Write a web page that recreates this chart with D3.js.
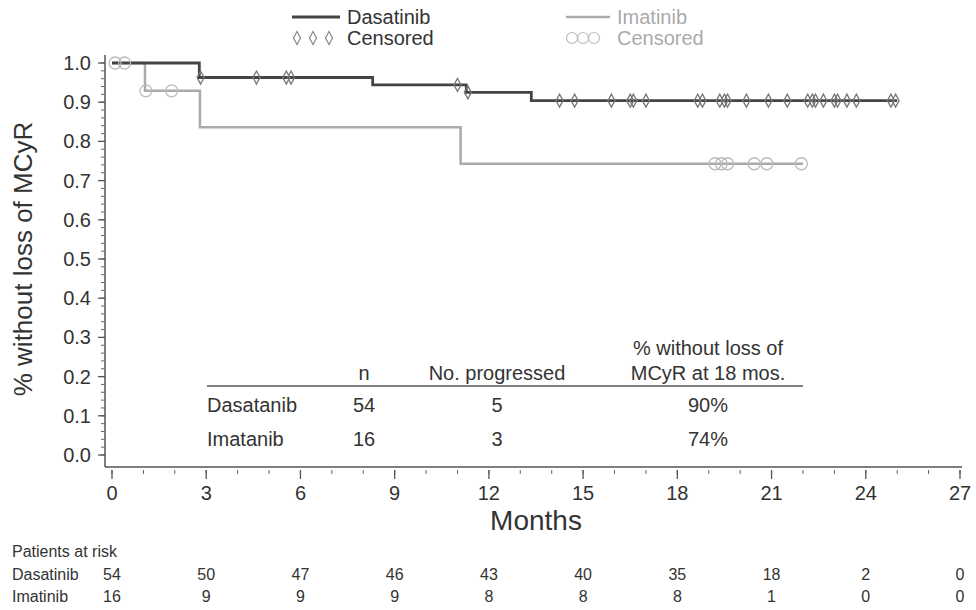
<!DOCTYPE html>
<html>
<head>
<meta charset="utf-8">
<script src="https://cdn.jsdelivr.net/npm/d3@7"></script>
<style>
  body { margin: 0; background: #fff; }
  text { font-family: "Liberation Sans", Arial, sans-serif; fill: #333; }
</style>
</head>
<body>
<script>
// Kaplan-Meier data
const dasaTimes = [0, 2.78, 8.3, 11.28, 13.35, 25.0]
const dasaSurv = [1.0, 0.963, 0.944, 0.925, 0.904, 0.904]
const dasaCensored = [2.82, 4.6, 5.55, 5.7, 11.0, 11.33, 14.25, 14.73, 15.9, 16.5, 16.6,
  17.0, 18.65, 18.8, 19.35, 19.5, 19.6, 20.2, 20.9, 21.5, 22.15, 22.3, 22.4, 22.65,
  23.0, 23.1, 23.4, 23.7, 24.8, 24.95]

const imaTimes = [0, 1.05, 2.8, 11.1, 22.0]
const imaSurv = [1.0, 0.929, 0.836, 0.743, 0.743]
const imaCensored = [0.1, 0.4, 1.08, 1.9, 19.2, 19.4, 19.6, 20.45, 20.85, 21.95]

const xTicks = [0, 3, 6, 9, 12, 15, 18, 21, 24, 27]
const yTicks = [0, 0.1, 0.2, 0.3, 0.4, 0.5, 0.6, 0.7, 0.8, 0.9, 1.0]

const tableHead = ['n', 'No. progressed']
const tableRows = ['Dasatanib', 'Imatanib']
const tableN = [54, 16]
const tableProgressed = [5, 3]
const tablePct = ['90%', '74%']

const riskGroups = ['Dasatinib', 'Imatinib']
const riskDasa = [54, 50, 47, 46, 43, 40, 35, 18, 2, 0]
const riskIma = [16, 9, 9, 9, 8, 8, 8, 1, 0, 0]

const dasaColor = '#444'
const imaColor = '#aaa'

const svg = d3.select('body').append('svg')
  .attr('width', 976)
  .attr('height', 610)

const x = d3.scaleLinear().domain([0, 27]).range([112, 960])
const y = d3.scaleLinear().domain([0, 1]).range([455, 63])

// axes
const axisY = 105
const axisX = 467

svg.append('line')
  .attr('x1', axisY).attr('x2', axisY)
  .attr('y1', 55).attr('y2', axisX)
  .attr('stroke', '#555').attr('stroke-width', 1.5)
svg.append('line')
  .attr('x1', axisY).attr('x2', x(27) + 2)
  .attr('y1', axisX).attr('y2', axisX)
  .attr('stroke', '#555').attr('stroke-width', 1.5)

const gy = svg.append('g')
gy.selectAll('.minor').data(d3.range(0, 1.001, 0.02)).join('line')
  .attr('x1', axisY - 4).attr('x2', axisY)
  .attr('y1', d => y(d)).attr('y2', d => y(d))
  .attr('stroke', '#666')
gy.selectAll('.major').data(yTicks).join('line')
  .attr('x1', axisY - 7).attr('x2', axisY)
  .attr('y1', d => y(d)).attr('y2', d => y(d))
  .attr('stroke', '#555').attr('stroke-width', 1.3)
gy.selectAll('text').data(yTicks).join('text')
  .attr('x', axisY - 14).attr('y', d => y(d) + 7)
  .attr('text-anchor', 'end')
  .attr('font-size', 20)
  .text(d3.format('.1f'))

const gx = svg.append('g')
gx.selectAll('.minor').data(d3.range(0, 28)).join('line')
  .attr('x1', d => x(d)).attr('x2', d => x(d))
  .attr('y1', axisX + 3).attr('y2', axisX + 7)
  .attr('stroke', '#666')
gx.selectAll('.major').data(xTicks).join('line')
  .attr('x1', d => x(d)).attr('x2', d => x(d))
  .attr('y1', axisX + 3).attr('y2', axisX + 12)
  .attr('stroke', '#555').attr('stroke-width', 1.3)
gx.selectAll('text').data(xTicks).join('text')
  .attr('x', d => x(d)).attr('y', axisX + 33)
  .attr('text-anchor', 'middle')
  .attr('font-size', 20)
  .text(d => d)

svg.append('text')
  .attr('x', x(13.5)).attr('y', 530)
  .attr('text-anchor', 'middle')
  .attr('font-size', 28)
  .text('Months')

svg.append('text')
  .attr('transform', 'translate(32,' + y(0.5) + ') rotate(-90)')
  .attr('text-anchor', 'middle')
  .attr('font-size', 26)
  .text('% without loss of MCyR')

// survival curves
const stepLine = d3.line()
  .x(d => x(d[0]))
  .y(d => y(d[1]))
  .curve(d3.curveStepAfter)

const survAt = (times, surv, t) => surv[d3.bisectRight(times, t) - 1]

svg.append('path')
  .datum(d3.zip(imaTimes, imaSurv))
  .attr('d', stepLine)
  .attr('fill', 'none')
  .attr('stroke', imaColor)
  .attr('stroke-width', 2.5)

svg.append('path')
  .datum(d3.zip(dasaTimes, dasaSurv))
  .attr('d', stepLine)
  .attr('fill', 'none')
  .attr('stroke', dasaColor)
  .attr('stroke-width', 2.8)

const diamond = 'M0,-6.5L3.5,0L0,6.5L-3.5,0Z'

svg.append('g').selectAll('circle').data(imaCensored).join('circle')
  .attr('cx', d => x(d))
  .attr('cy', d => y(survAt(imaTimes, imaSurv, d)))
  .attr('r', 6)
  .attr('fill', 'none')
  .attr('stroke', '#bbb')
  .attr('stroke-width', 1.3)

svg.append('g').selectAll('path').data(dasaCensored).join('path')
  .attr('transform', d => 'translate(' + x(d) + ',' + y(survAt(dasaTimes, dasaSurv, d)) + ')')
  .attr('d', diamond)
  .attr('fill', 'none')
  .attr('stroke', '#777')
  .attr('stroke-width', 1.3)

// legend
const legend = svg.append('g')
legend.append('line')
  .attr('x1', 292).attr('x2', 340).attr('y1', 17).attr('y2', 17)
  .attr('stroke', dasaColor).attr('stroke-width', 2.8)
legend.append('text').attr('x', 347).attr('y', 24).attr('font-size', 20).text('Dasatinib')
legend.selectAll('.dia').data([0, 1, 2]).join('path')
  .attr('transform', d => 'translate(' + (297 + d * 16) + ',38)')
  .attr('d', diamond)
  .attr('fill', 'none').attr('stroke', '#888').attr('stroke-width', 1.2)
legend.append('text').attr('x', 347).attr('y', 45).attr('font-size', 20).text('Censored')

legend.append('line')
  .attr('x1', 566).attr('x2', 610).attr('y1', 17).attr('y2', 17)
  .attr('stroke', imaColor).attr('stroke-width', 2.5)
legend.append('text').attr('x', 617).attr('y', 24).attr('font-size', 20)
  .style('fill', '#aaa').text('Imatinib')
legend.selectAll('.circ').data([0, 1, 2]).join('circle')
  .attr('cx', d => 572 + d * 11).attr('cy', 38).attr('r', 5.5)
  .attr('fill', 'none').attr('stroke', '#bbb').attr('stroke-width', 1.2)
legend.append('text').attr('x', 617).attr('y', 45).attr('font-size', 20)
  .style('fill', '#aaa').text('Censored')

// summary table
const colN = 364, colProg = 497, colPct = 708
const table = svg.append('g').attr('font-size', 20)
table.append('text').attr('x', colN).attr('y', 380).attr('text-anchor', 'middle')
  .attr('font-size', 20).text(tableHead[0])
table.append('text').attr('x', colProg).attr('y', 380).attr('text-anchor', 'middle')
  .attr('font-size', 20).text(tableHead[1])
table.append('text').attr('x', colPct).attr('y', 355).attr('text-anchor', 'middle')
  .attr('font-size', 20).text('% without loss of')
table.append('text').attr('x', colPct).attr('y', 380).attr('text-anchor', 'middle')
  .attr('font-size', 20).text('MCyR at 18 mos.')
table.append('line')
  .attr('x1', 207).attr('x2', 803).attr('y1', 386).attr('y2', 386)
  .attr('stroke', '#555').attr('stroke-width', 1.5)

tableRows.forEach((name, i) => {
  const ty = 412 + i * 34
  table.append('text').attr('x', 207).attr('y', ty).attr('font-size', 20).text(name)
  table.append('text').attr('x', colN).attr('y', ty).attr('text-anchor', 'middle')
    .attr('font-size', 20).text(tableN[i])
  table.append('text').attr('x', colProg).attr('y', ty).attr('text-anchor', 'middle')
    .attr('font-size', 20).text(tableProgressed[i])
  table.append('text').attr('x', colPct).attr('y', ty).attr('text-anchor', 'middle')
    .attr('font-size', 20).text(tablePct[i])
})

// patients at risk
const risk = svg.append('g')
risk.append('text').attr('x', 12).attr('y', 557).attr('font-size', 16).text('Patients at risk')
;[riskDasa, riskIma].forEach((vals, i) => {
  const ry = 580 + i * 22
  risk.append('text').attr('x', 12).attr('y', ry).attr('font-size', 16).text(riskGroups[i])
  risk.selectAll('.r' + i).data(vals).join('text')
    .attr('x', (d, j) => x(xTicks[j]))
    .attr('y', ry)
    .attr('text-anchor', 'middle')
    .attr('font-size', 16)
    .text(d => d)
})
</script>
</body>
</html>
